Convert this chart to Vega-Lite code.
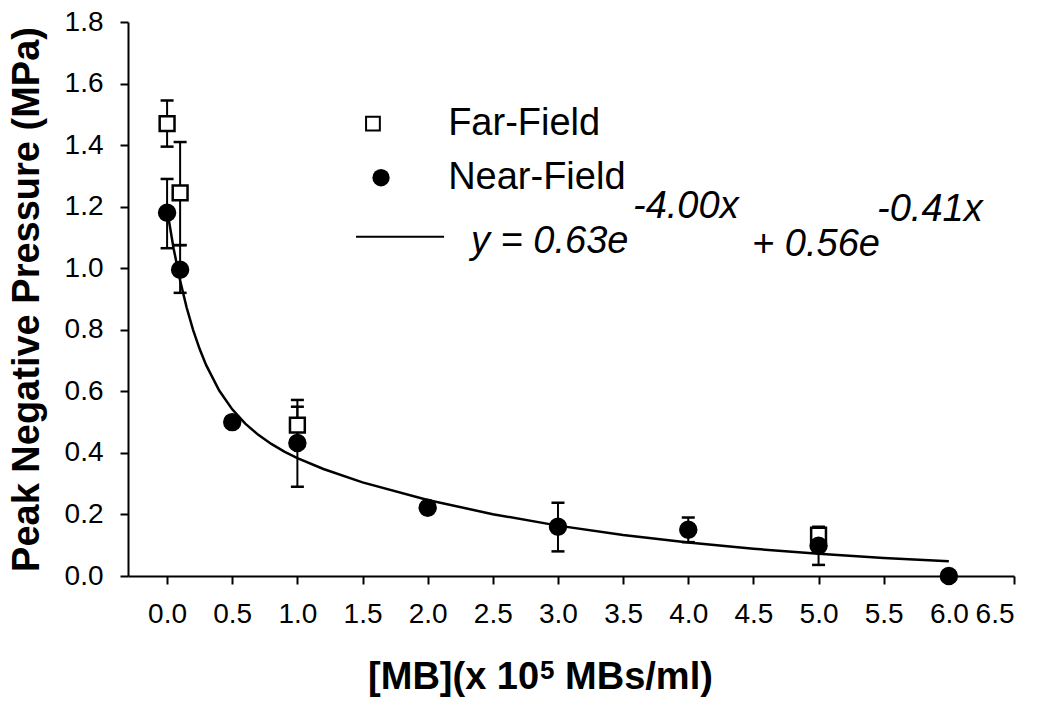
{
  "$schema": "https://vega.github.io/schema/vega-lite/v6.json",
  "autosize": {"type": "none"},
  "padding": {"left": 128, "top": 22, "right": 36, "bottom": 133},
  "width": 886,
  "height": 554,
  "background": "white",
  "config": {
    "view": {"stroke": null},
    "axis": {
      "grid": false,
      "domainColor": "black",
      "domainWidth": 2,
      "tickColor": "black",
      "tickWidth": 2,
      "tickSize": 8,
      "labelFont": "Liberation Sans",
      "labelFontSize": 28,
      "labelColor": "black",
      "titleFont": "Liberation Sans",
      "titleFontWeight": "bold",
      "titleFontSize": 38,
      "titleColor": "black"
    },
    "text": {"font": "Liberation Sans", "fontSize": 38, "align": "left", "baseline": "middle", "color": "black"}
  },
  "datasets": {
    "points": [
      {"series": "Far-Field", "x": 0.0, "y": 1.47, "lo": 1.395, "hi": 1.545},
      {"series": "Far-Field", "x": 0.1, "y": 1.245, "lo": 1.075, "hi": 1.41},
      {"series": "Far-Field", "x": 1.0, "y": 0.49, "lo": 0.43, "hi": 0.55},
      {"series": "Far-Field", "x": 5.0, "y": 0.133, "lo": null, "hi": null},
      {"series": "Near-Field", "x": 0.0, "y": 1.18, "lo": 1.065, "hi": 1.29},
      {"series": "Near-Field", "x": 0.1, "y": 0.995, "lo": 0.92, "hi": 1.075},
      {"series": "Near-Field", "x": 0.5, "y": 0.5, "lo": null, "hi": null},
      {"series": "Near-Field", "x": 1.0, "y": 0.432, "lo": 0.29, "hi": 0.572},
      {"series": "Near-Field", "x": 2.0, "y": 0.222, "lo": null, "hi": null},
      {"series": "Near-Field", "x": 3.0, "y": 0.16, "lo": 0.08, "hi": 0.238},
      {"series": "Near-Field", "x": 4.0, "y": 0.15, "lo": 0.11, "hi": 0.19},
      {"series": "Near-Field", "x": 5.0, "y": 0.098, "lo": 0.036, "hi": 0.16},
      {"series": "Near-Field", "x": 6.0, "y": 0.0, "lo": null, "hi": null}
    ],
    "curve": [
      {"x": 0.0, "y": 1.19}, {"x": 0.05, "y": 1.0644}, {"x": 0.1, "y": 0.9598},
      {"x": 0.15, "y": 0.8723}, {"x": 0.2, "y": 0.799}, {"x": 0.25, "y": 0.7373},
      {"x": 0.3, "y": 0.685}, {"x": 0.4, "y": 0.6025}, {"x": 0.5, "y": 0.5415},
      {"x": 0.6, "y": 0.495}, {"x": 0.7, "y": 0.4586}, {"x": 0.8, "y": 0.4291},
      {"x": 0.9, "y": 0.4044}, {"x": 1.0, "y": 0.3832}, {"x": 1.2, "y": 0.3476},
      {"x": 1.5, "y": 0.3043}, {"x": 2.0, "y": 0.2468}, {"x": 2.5, "y": 0.2009},
      {"x": 3.0, "y": 0.1637}, {"x": 3.5, "y": 0.1333}, {"x": 4.0, "y": 0.1086},
      {"x": 4.5, "y": 0.0885}, {"x": 5.0, "y": 0.0721}, {"x": 5.5, "y": 0.0587},
      {"x": 6.0, "y": 0.0478}
    ]
  },
  "layer": [
    {
      "data": {"name": "curve"},
      "mark": {"type": "line", "color": "black", "strokeWidth": 2.5},
      "encoding": {
        "x": {
          "field": "x", "type": "quantitative",
          "scale": {"domain": [-0.3, 6.5], "nice": false, "zero": false},
          "axis": {
            "values": [0, 0.5, 1, 1.5, 2, 2.5, 3, 3.5, 4, 4.5, 5, 5.5, 6, 6.5],
            "format": ".1f",
            "labelPadding": 16,
            "title": null
          }
        },
        "y": {
          "field": "y", "type": "quantitative",
          "scale": {"domain": [0, 1.8], "nice": false},
          "axis": {
            "values": [0, 0.2, 0.4, 0.6, 0.8, 1.0, 1.2, 1.4, 1.6, 1.8],
            "format": ".1f",
            "labelPadding": 17,
            "title": "Peak Negative Pressure (MPa)",
            "titleX": -90,
            "titleY": 277,
            "titleAngle": -90,
            "titleAlign": "center",
            "titleBaseline": "alphabetic"
          }
        }
      }
    },
    {
      "data": {"name": "points"},
      "transform": [{"filter": "datum.lo != null"}],
      "mark": {"type": "rule", "color": "black", "strokeWidth": 2},
      "encoding": {
        "x": {"field": "x", "type": "quantitative"},
        "y": {"field": "lo", "type": "quantitative"},
        "y2": {"field": "hi"}
      }
    },
    {
      "data": {"name": "points"},
      "transform": [{"filter": "datum.lo != null"}],
      "mark": {"type": "tick", "orient": "horizontal", "color": "black", "size": 13, "thickness": 2.5, "opacity": 1},
      "encoding": {
        "x": {"field": "x", "type": "quantitative"},
        "y": {"field": "lo", "type": "quantitative"}
      }
    },
    {
      "data": {"name": "points"},
      "transform": [{"filter": "datum.hi != null"}],
      "mark": {"type": "tick", "orient": "horizontal", "color": "black", "size": 13, "thickness": 2.5, "opacity": 1},
      "encoding": {
        "x": {"field": "x", "type": "quantitative"},
        "y": {"field": "hi", "type": "quantitative"}
      }
    },
    {
      "data": {"name": "points"},
      "transform": [{"filter": "datum.series == 'Far-Field'"}],
      "mark": {"type": "point", "shape": "square", "filled": true, "fill": "white", "stroke": "black", "strokeWidth": 2.5, "size": 220, "opacity": 1},
      "encoding": {
        "x": {"field": "x", "type": "quantitative"},
        "y": {"field": "y", "type": "quantitative"}
      }
    },
    {
      "data": {"name": "points"},
      "transform": [{"filter": "datum.series == 'Near-Field'"}],
      "mark": {"type": "point", "shape": "circle", "filled": true, "fill": "black", "stroke": "black", "size": 270, "opacity": 1},
      "encoding": {
        "x": {"field": "x", "type": "quantitative"},
        "y": {"field": "y", "type": "quantitative"}
      }
    },
    {
      "data": {"values": [{"item": "Far-Field"}]},
      "mark": {"type": "point", "shape": "square", "filled": true, "fill": "white", "stroke": "black", "strokeWidth": 2, "size": 190, "opacity": 1},
      "encoding": {"x": {"datum": 1.58}, "y": {"datum": 1.47}}
    },
    {
      "data": {"values": [{"item": "Near-Field"}]},
      "mark": {"type": "point", "shape": "circle", "filled": true, "fill": "black", "size": 300, "opacity": 1},
      "encoding": {"x": {"datum": 1.642}, "y": {"datum": 1.294}}
    },
    {
      "data": {"values": [{"item": "fit"}]},
      "mark": {"type": "rule", "color": "black", "strokeWidth": 2},
      "encoding": {"x": {"datum": 1.45}, "x2": {"datum": 2.126}, "y": {"datum": 1.102}}
    },
    {
      "data": {"values": [{"item": "Far-Field"}]},
      "mark": {"type": "text"},
      "encoding": {"x": {"datum": 2.157}, "y": {"datum": 1.47}, "text": {"field": "item"}}
    },
    {
      "data": {"values": [{"item": "Near-Field"}]},
      "mark": {"type": "text"},
      "encoding": {"x": {"datum": 2.157}, "y": {"datum": 1.294}, "text": {"field": "item"}}
    },
    {
      "data": {"values": [{"item": "y = 0.63e"}]},
      "mark": {"type": "text", "fontStyle": "italic"},
      "encoding": {"x": {"datum": 2.333}, "y": {"datum": 1.086}, "text": {"field": "item"}}
    },
    {
      "data": {"values": [{"item": "-4.00x"}]},
      "mark": {"type": "text", "fontStyle": "italic"},
      "encoding": {"x": {"datum": 3.576}, "y": {"datum": 1.2}, "text": {"field": "item"}}
    },
    {
      "data": {"values": [{"item": "+ 0.56e"}]},
      "mark": {"type": "text", "fontStyle": "italic"},
      "encoding": {"x": {"datum": 4.49}, "y": {"datum": 1.076}, "text": {"field": "item"}}
    },
    {
      "data": {"values": [{"item": "-0.41x"}]},
      "mark": {"type": "text", "fontStyle": "italic"},
      "encoding": {"x": {"datum": 5.449}, "y": {"datum": 1.19}, "text": {"field": "item"}}
    },
    {
      "data": {"values": [{"item": "[MB](x 10"}]},
      "mark": {"type": "text", "fontWeight": "bold", "baseline": "alphabetic"},
      "encoding": {"x": {"datum": 1.5426}, "y": {"datum": -0.3675}, "text": {"field": "item"}}
    },
    {
      "data": {"values": [{"item": "5"}]},
      "mark": {"type": "text", "fontWeight": "bold", "baseline": "alphabetic", "fontSize": 26},
      "encoding": {"x": {"datum": 2.8626}, "y": {"datum": -0.334}, "text": {"field": "item"}}
    },
    {
      "data": {"values": [{"item": "MBs/ml)"}]},
      "mark": {"type": "text", "fontWeight": "bold", "baseline": "alphabetic"},
      "encoding": {"x": {"datum": 3.0545}, "y": {"datum": -0.3675}, "text": {"field": "item"}}
    }
  ]
}
